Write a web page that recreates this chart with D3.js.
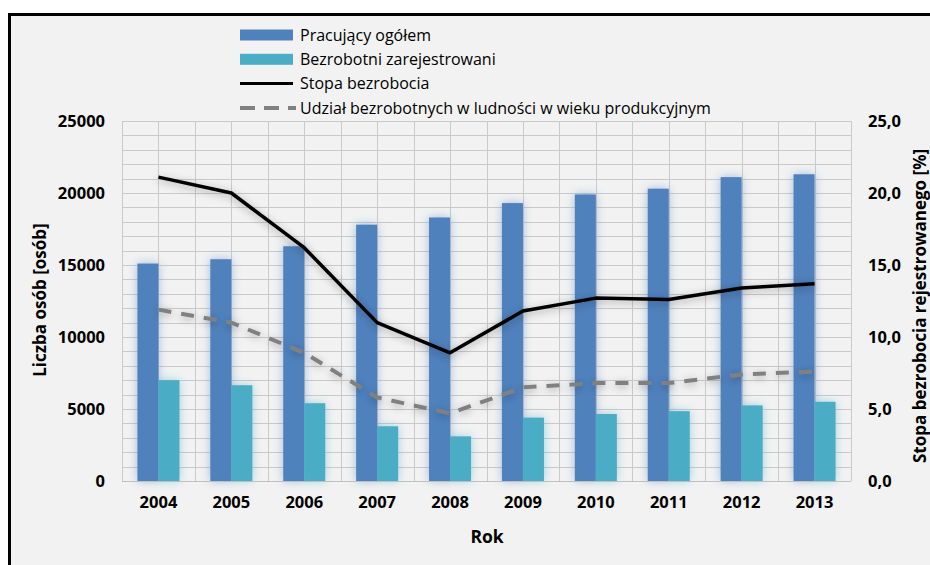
<!DOCTYPE html>
<meta charset="utf-8">
<head>
<title>Pracujący i bezrobotni 2004-2013</title>
<style>
  body { margin: 0; background: #fff; }
  text { font-family: "Open Sans", sans-serif; fill: #000; }
</style>
</head>
<script src="https://d3js.org/d3.v7.min.js"></script>
<div id="chart"></div>
<script>

// data
var years = ["2004", "2005", "2006", "2007", "2008", "2009", "2010", "2011", "2012", "2013"];
var pracujacy = [15100, 15400, 16300, 17800, 18300, 19300, 19900, 20300, 21100, 21300];
var bezrobotni = [7000, 6650, 5400, 3800, 3100, 4400, 4650, 4850, 5250, 5500];
var stopa = [21.1, 20.0, 16.2, 11.0, 8.9, 11.8, 12.7, 12.6, 13.4, 13.7];
var udzial = [11.9, 11.0, 8.9, 5.8, 4.7, 6.5, 6.8, 6.8, 7.4, 7.6];
var seriesNames = ["Pracujący ogółem", "Bezrobotni zarejestrowani", "Stopa bezrobocia",
                   "Udział bezrobotnych w ludności w wieku produkcyjnym"];
var leftTicks = [0, 5000, 10000, 15000, 20000, 25000];
var rightTicks = [0, 5, 10, 15, 20, 25];

var width = 930, height = 565;
var plot = {left: 122, right: 851, top: 121, bottom: 481};

var blue = "#4f81bd", cyan = "#4bacc6", grey = "#808080";

var svg = d3.select("#chart").append("svg")
    .attr("width", width)
    .attr("height", height);

// soft glow under the bars and lines
var defs = svg.append("defs");
var glow = defs.append("filter").attr("id", "glow")
    .attr("x", "-50%").attr("y", "-20%").attr("width", "200%").attr("height", "140%");
glow.append("feGaussianBlur").attr("in", "SourceGraphic").attr("stdDeviation", 5).attr("result", "b");
glow.append("feComponentTransfer").attr("in", "b").attr("result", "bf")
  .append("feFuncA").attr("type", "linear").attr("slope", 0.5);
var gm = glow.append("feMerge");
gm.append("feMergeNode").attr("in", "bf");
gm.append("feMergeNode").attr("in", "SourceGraphic");

var shadow = defs.append("filter").attr("id", "shadow")
    .attr("x", "-10%").attr("y", "-30%").attr("width", "120%").attr("height", "160%");
shadow.append("feGaussianBlur").attr("in", "SourceAlpha").attr("stdDeviation", 4).attr("result", "b");
shadow.append("feOffset").attr("in", "b").attr("dx", 0).attr("dy", 2).attr("result", "o");
shadow.append("feComponentTransfer").attr("in", "o").attr("result", "of")
  .append("feFuncA").attr("type", "linear").attr("slope", 0.35);
var sm = shadow.append("feMerge");
sm.append("feMergeNode").attr("in", "of");
sm.append("feMergeNode").attr("in", "SourceGraphic");

// frame
svg.append("rect")
    .attr("x", 9.5).attr("y", 14.5)
    .attr("width", width + 10).attr("height", height + 10)
    .attr("fill", "#f2f2f2")
    .attr("stroke", "#000").attr("stroke-width", 3);

// scales
var x = d3.scaleBand().domain(years).range([plot.left, plot.right]).padding(0);
var xSub = d3.scaleBand().domain(["p", "b"]).range([0, x.bandwidth()])
    .paddingInner(0).paddingOuter(0.735);
var yLeft = d3.scaleLinear().domain([0, 25000]).range([plot.bottom, plot.top]);
var yRight = d3.scaleLinear().domain([0, 25]).range([plot.bottom, plot.top]);

// grid
var grid = svg.append("g").attr("class", "grid");
grid.selectAll("line.h")
  .data(d3.range(0, 25001, 1000))
  .join("line")
    .attr("x1", plot.left).attr("x2", plot.right)
    .attr("y1", d => Math.round(yLeft(d)) + 0.5).attr("y2", d => Math.round(yLeft(d)) + 0.5)
    .attr("stroke", "#cacaca").attr("stroke-width", 1);
var vx = [];
years.forEach(function(y) { vx.push(x(y)); vx.push(x(y) + x.bandwidth() / 2); });
vx.push(plot.right);
grid.selectAll("line.v")
  .data(vx)
  .join("line")
    .attr("x1", d => Math.round(d) + 0.5).attr("x2", d => Math.round(d) + 0.5)
    .attr("y1", plot.top).attr("y2", plot.bottom)
    .attr("stroke", "#cacaca").attr("stroke-width", 1);

// bars
var bars = svg.append("g").attr("filter", "url(#glow)");
bars.selectAll("rect.p")
  .data(years)
  .join("rect")
    .attr("x", (d) => x(d) + xSub("p"))
    .attr("y", (d, i) => yLeft(pracujacy[i]))
    .attr("width", xSub.bandwidth())
    .attr("height", (d, i) => yLeft(0) - yLeft(pracujacy[i]))
    .attr("fill", blue);
bars.selectAll("rect.b")
  .data(years)
  .join("rect")
    .attr("x", (d) => x(d) + xSub("b"))
    .attr("y", (d, i) => yLeft(bezrobotni[i]))
    .attr("width", xSub.bandwidth())
    .attr("height", (d, i) => yLeft(0) - yLeft(bezrobotni[i]))
    .attr("fill", cyan);

// lines (right axis)
var line = d3.line()
    .x((d, i) => x(years[i]) + x.bandwidth() / 2)
    .y(d => yRight(d));

svg.append("path")
    .attr("d", line(udzial))
    .attr("fill", "none")
    .attr("stroke", grey).attr("stroke-width", 4)
    .attr("stroke-dasharray", "13,10")
    .attr("filter", "url(#shadow)");

svg.append("path")
    .attr("d", line(stopa))
    .attr("fill", "none")
    .attr("stroke", "#000").attr("stroke-width", 3.5)
    .attr("stroke-linejoin", "round")
    .attr("filter", "url(#shadow)");

// bottom axis line
svg.append("line")
    .attr("x1", plot.left).attr("x2", plot.right)
    .attr("y1", plot.bottom + 0.5).attr("y2", plot.bottom + 0.5)
    .attr("stroke", "#bfbfbf");

// axes
var pl = d3.formatLocale({decimal: ",", thousands: "", grouping: [3], currency: ["", ""]});

var xAxis = svg.append("g")
    .attr("transform", "translate(0," + plot.bottom + ")")
    .call(d3.axisBottom(x).tickSize(0).tickPadding(15));
var yAxisL = svg.append("g")
    .attr("transform", "translate(" + (plot.left - 17) + ",0)")
    .call(d3.axisLeft(yLeft).tickValues(leftTicks).tickSize(0).tickPadding(0).tickFormat(d3.format("d")));
var yAxisR = svg.append("g")
    .attr("transform", "translate(" + (plot.right + 17) + ",0)")
    .call(d3.axisRight(yRight).tickValues(rightTicks).tickSize(0).tickPadding(0).tickFormat(pl.format(".1f")));

[xAxis, yAxisL, yAxisR].forEach(function(g) {
  g.select(".domain").remove();
  g.selectAll("text")
    .style("font-family", "'Open Sans', sans-serif")
    .style("font-size", "16.5px")
    .style("font-weight", "bold")
    .attr("fill", "#000");
});

// axis titles
svg.append("text")
    .attr("transform", "translate(46,300) rotate(-90)")
    .attr("text-anchor", "middle")
    .style("font-size", "17px").style("font-weight", "bold")
    .text("Liczba osób [osób]");

svg.append("text")
    .attr("transform", "translate(926,306) rotate(-90)")
    .attr("text-anchor", "middle")
    .style("font-size", "17px").style("font-weight", "bold")
    .text("Stopa bezrobocia rejestrowanego [%]");

svg.append("text")
    .attr("x", 487).attr("y", 543)
    .attr("text-anchor", "middle")
    .style("font-size", "17.5px").style("font-weight", "bold")
    .text("Rok");

// legend
var legend = svg.append("g").attr("transform", "translate(240,35)");
var rowH = 24.3;
var items = legend.selectAll("g")
  .data(seriesNames)
  .join("g")
    .attr("transform", (d, i) => "translate(0," + (i * rowH) + ")");
items.each(function(d, i) {
  var g = d3.select(this);
  if (i < 2) {
    g.append("rect").attr("x", 0).attr("y", -5.5).attr("width", 53).attr("height", 11)
      .attr("fill", i === 0 ? blue : cyan);
  } else if (i === 2) {
    g.append("line").attr("x1", 0).attr("x2", 53).attr("y1", 0).attr("y2", 0)
      .attr("stroke", "#000").attr("stroke-width", 3);
  } else {
    g.append("line").attr("x1", 0).attr("x2", 56).attr("y1", 0).attr("y2", 0)
      .attr("stroke", grey).attr("stroke-width", 4).attr("stroke-dasharray", "15,9");
  }
  g.append("text")
    .attr("x", 60).attr("y", 0).attr("dy", "0.35em")
    .style("font-size", "16px")
    .text(d);
});

</script>
